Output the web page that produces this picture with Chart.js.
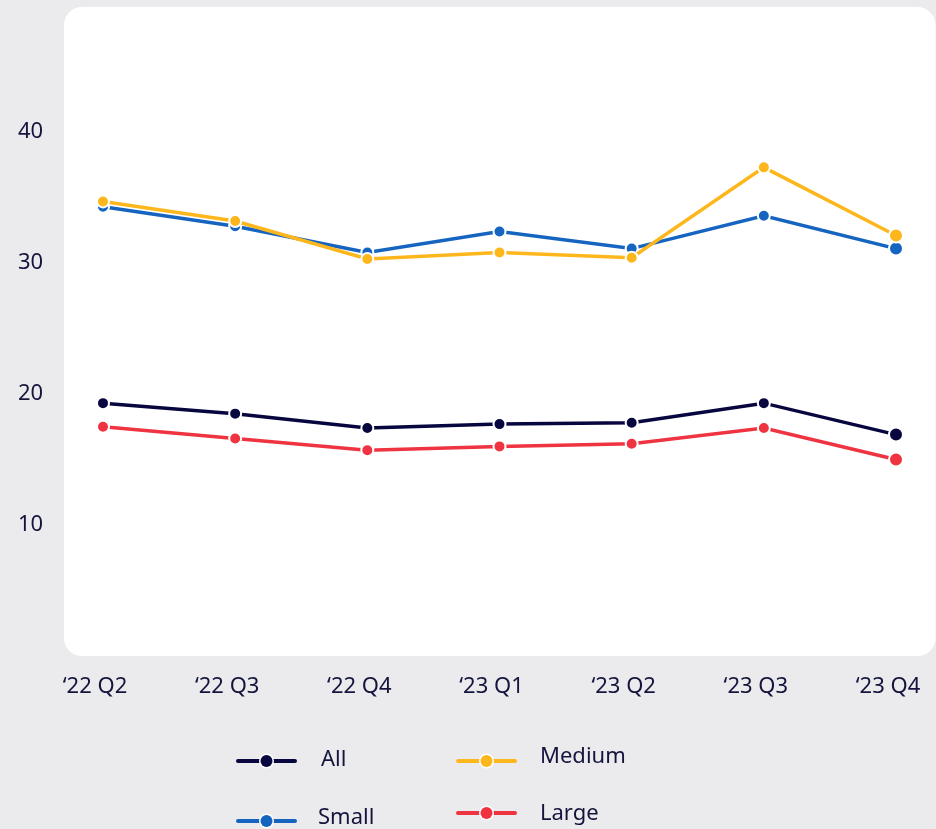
<!DOCTYPE html>
<html>
<head>
<meta charset="utf-8">
<script src="https://cdn.jsdelivr.net/npm/chart.js@4"></script>
<style>
  html, body { margin: 0; padding: 0; background: #ebebee; }
  #wrap { width: 936px; height: 829px; }
</style>
</head>
<body>
<div id="wrap"><canvas id="c" width="936" height="829"></canvas></div>
<script>
const categories = ["\u201822 Q2", "\u201822 Q3", "\u201822 Q4", "\u201823 Q1", "\u201823 Q2", "\u201823 Q3", "\u201823 Q4"];
const allValues    = [19.3, 18.5, 17.4, 17.7, 17.8, 19.3, 16.9];
const smallValues  = [34.3, 32.8, 30.8, 32.4, 31.1, 33.6, 31.1];
const mediumValues = [34.7, 33.2, 30.3, 30.8, 30.4, 37.3, 32.1];
const largeValues  = [17.5, 16.6, 15.7, 16.0, 16.2, 17.4, 15.0];
const yTickValues  = [10, 20, 30, 40];

const TEXT = '#14143c';
const FONT = '"Noto Sans", "Open Sans", sans-serif';

function ds(label, data, color, order) {
  return {
    label, data, order,
    borderColor: color,
    backgroundColor: color,
    borderWidth: 3.5,
    tension: 0,
    pointBackgroundColor: color,
    pointBorderColor: '#ffffff',
    pointBorderWidth: 2,
    pointRadius: ctx => ctx.dataIndex === data.length - 1 ? 7 : 6,
    pointHoverRadius: 7
  };
}

const panelPlugin = {
  id: 'panel',
  beforeDraw(chart) {
    const ctx = chart.ctx, a = chart.chartArea;
    ctx.save();
    ctx.fillStyle = '#ebebee';
    ctx.fillRect(0, 0, chart.width, chart.height);
    const x0 = a.left - 39, x1 = chart.width - 0.5, y0 = a.top, y1 = a.bottom, r = 18;
    ctx.fillStyle = '#ffffff';
    ctx.beginPath();
    ctx.moveTo(x0 + r, y0);
    ctx.lineTo(x1 - r, y0);
    ctx.arcTo(x1, y0, x1, y0 + r, r);
    ctx.lineTo(x1, y1 - r);
    ctx.arcTo(x1, y1, x1 - r, y1, r);
    ctx.lineTo(x0 + r, y1);
    ctx.arcTo(x0, y1, x0, y1 - r, r);
    ctx.lineTo(x0, y0 + r);
    ctx.arcTo(x0, y0, x0 + r, y0, r);
    ctx.closePath();
    ctx.fill();
    ctx.restore();
  }
};

const legendPlugin = {
  id: 'colLegend',
  afterDraw(chart, args, opts) {
    const ctx = chart.ctx;
    ctx.save();
    opts.slots.forEach((slot) => {
      const d = chart.data.datasets[slot.index];
      const x = slot.x, y = slot.y, w = 61;
      ctx.strokeStyle = d.borderColor;
      ctx.lineWidth = 4;
      ctx.lineCap = 'round';
      ctx.beginPath();
      ctx.moveTo(x + 2, y);
      ctx.lineTo(x + w - 2, y);
      ctx.stroke();
      ctx.beginPath();
      ctx.arc(x + w / 2, y, 7.5, 0, Math.PI * 2);
      ctx.fillStyle = '#ffffff';
      ctx.fill();
      ctx.beginPath();
      ctx.arc(x + w / 2, y, 6, 0, Math.PI * 2);
      ctx.fillStyle = d.borderColor;
      ctx.fill();
      ctx.fillStyle = TEXT;
      ctx.font = '22px ' + FONT;
      ctx.textBaseline = 'middle';
      ctx.textAlign = 'left';
      ctx.fillText(d.label, slot.tx, slot.ty);
    });
    ctx.restore();
  }
};

new Chart(document.getElementById('c'), {
  type: 'line',
  data: {
    labels: categories,
    datasets: [
      ds('All', allValues, '#07063f', 0),
      ds('Small', smallValues, '#1565c0', 2),
      ds('Medium', mediumValues, '#fdb71c', 1),
      ds('Large', largeValues, '#ef3341', 3)
    ]
  },
  options: {
    responsive: false,
    devicePixelRatio: 1,
    animation: false,
    layout: { autoPadding: false, padding: { top: 7, right: 40, bottom: 113, left: 18 } },
    plugins: {
      legend: { display: false },
      tooltip: { enabled: false },
      colLegend: {
        slots: [
          { index: 0, x: 236, y: 761, tx: 321, ty: 760 },
          { index: 1, x: 236, y: 821, tx: 318, ty: 818 },
          { index: 2, x: 456, y: 761, tx: 540, ty: 757 },
          { index: 3, x: 456, y: 813, tx: 540, ty: 814 }
        ]
      }
    },
    scales: {
      x: {
        type: 'category',
        offset: false,
        grid: { display: false, drawTicks: false },
        border: { display: false },
        ticks: { color: TEXT, font: { family: FONT, size: 22, lineHeight: 2.4 }, padding: 4, labelOffset: -8, maxRotation: 0, autoSkip: false },
        afterFit(scale) { scale.height = 60; }
      },
      y: {
        min: 0,
        max: 49.54,
        grid: { display: false, drawTicks: false },
        border: { display: false },
        afterBuildTicks(scale) { scale.ticks = yTickValues.map(v => ({ value: v })); },
        ticks: { color: TEXT, font: { family: FONT, size: 22 }, padding: -16, crossAlign: 'far' },
        afterFit(scale) { scale.width = 85; }
      }
    }
  },
  plugins: [panelPlugin, legendPlugin]
});
</script>
</body>
</html>
